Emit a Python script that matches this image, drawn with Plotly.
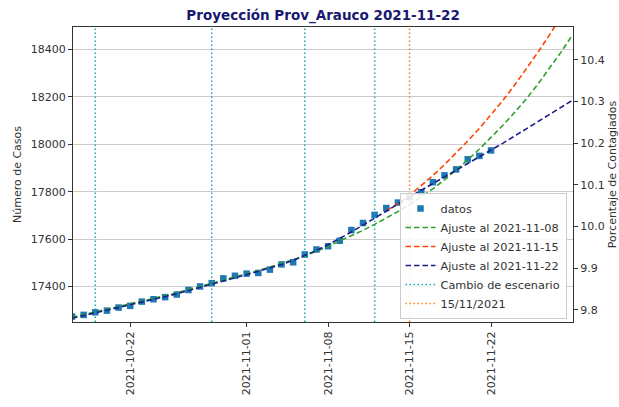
import plotly.graph_objects as go
import pandas as pd

# ---------------- data ----------------
data_dates = pd.date_range("2021-10-17", "2021-11-22", freq="D").strftime("%Y-%m-%d").tolist()
datos = [17273, 17280, 17291, 17298, 17311, 17318, 17336, 17346, 17355, 17366,
         17385, 17400, 17414, 17434, 17445, 17454, 17457, 17471, 17493, 17502,
         17535, 17556, 17570, 17593, 17638, 17668, 17702, 17731, 17754, 17777,
         17798, 17840, 17869, 17894, 17937, 17951, 17974]

fit_dates = pd.date_range("2021-10-17", "2021-11-29", freq="D").strftime("%Y-%m-%d").tolist()
ajuste_1108 = [17270, 17281, 17292, 17303, 17314, 17325, 17337, 17349, 17361, 17373,
               17386, 17399, 17412, 17425, 17439, 17453, 17467, 17482, 17497, 17513,
               17529, 17548, 17570, 17592, 17614, 17637, 17662, 17688, 17716, 17746,
               17778, 17812, 17850, 17890, 17934, 17980, 18028, 18079, 18133, 18190,
               18252, 18318, 18388, 18462]
ajuste_1122 = [17266, 17277, 17288, 17299, 17310, 17321, 17333, 17345, 17357, 17369,
               17382, 17395, 17408, 17422, 17436, 17450, 17464, 17478, 17493, 17510,
               17530, 17552, 17576, 17602, 17630, 17659, 17689, 17719, 17749, 17778,
               17806, 17834, 17862, 17890, 17918, 17946, 17975, 18004, 18034, 18064,
               18094, 18124, 18155, 18186]
fit_1115_dates = pd.date_range("2021-11-13", "2021-11-28", freq="D").strftime("%Y-%m-%d").tolist()
ajuste_1115 = [17720, 17750, 17785, 17825, 17868, 17914, 17963, 18014, 18067, 18124,
               18184, 18248, 18315, 18386, 18460, 18538]

cambio_dates = ["2021-10-19", "2021-10-29", "2021-11-06", "2021-11-12"]
fecha_corte = "2021-11-15"

x_ticks = ["2021-10-22", "2021-11-01", "2021-11-08", "2021-11-15", "2021-11-22"]
y_ticks = [17400, 17600, 17800, 18000, 18200, 18400]
pct_ticks = [9.8, 9.9, 10.0, 10.1, 10.2, 10.3, 10.4]

X_RANGE = ["2021-10-17 02:00", "2021-11-29 01:00"]
Y_RANGE = [17250, 18495]
PCT_RANGE = [9.771, 10.479]

FONT = "DejaVu Sans"
TXT = "#333333"

fig = go.Figure()

fig.add_trace(go.Scatter(x=data_dates, y=datos, mode="markers", name="datos",
                         marker=dict(symbol="square", size=6.5, color="#1f77b4")))
fig.add_trace(go.Scatter(x=fit_dates, y=ajuste_1108, mode="lines", name="Ajuste al 2021-11-08",
                         line=dict(color="#2ca02c", width=1.6, dash="5.5px,3px")))
fig.add_trace(go.Scatter(x=fit_1115_dates, y=ajuste_1115, mode="lines", name="Ajuste al 2021-11-15",
                         line=dict(color="#ff4500", width=1.6, dash="5.5px,3px")))
fig.add_trace(go.Scatter(x=fit_dates, y=ajuste_1122, mode="lines", name="Ajuste al 2021-11-22",
                         line=dict(color="#1c1c8c", width=1.6, dash="5.5px,3px")))

vx, vy = [], []
for d in cambio_dates:
    vx += [d, d, None]
    vy += [Y_RANGE[0], Y_RANGE[1], None]
fig.add_trace(go.Scatter(x=vx, y=vy, mode="lines", name="Cambio de escenario",
                         line=dict(color="#17a6b0", width=1.5, dash="1.5px,2.5px")))
fig.add_trace(go.Scatter(x=[fecha_corte, fecha_corte], y=Y_RANGE, mode="lines", name="15/11/2021",
                         line=dict(color="#ff7f0e", width=1.5, dash="1.5px,2.5px")))
# secondary axis carrier (no visible marks)
fig.add_trace(go.Scatter(x=[], y=[], yaxis="y2", showlegend=False, hoverinfo="skip"))

fig.update_layout(
    width=619, height=407,
    margin=dict(l=73, r=46, t=27, b=75),
    paper_bgcolor="white", plot_bgcolor="white",
    font=dict(family=FONT, size=11, color=TXT),
    title=dict(text="<b>Proyección Prov_Arauco 2021-11-22</b>", x=0.522, xanchor="center",
               y=0.963, yanchor="middle",
               font=dict(family=FONT, size=13.5, color="#191970")),
    showlegend=True,
    legend=dict(x=0.987, y=0.01, xanchor="right", yanchor="bottom",
                bgcolor="rgba(255,255,255,0.85)", bordercolor="#cccccc", borderwidth=1,
                font=dict(family=FONT, size=11.3, color=TXT), tracegroupgap=0),
    xaxis=dict(type="date", range=X_RANGE, tickvals=x_ticks, ticktext=x_ticks,
               tickangle=-90, ticks="outside", ticklen=4, tickcolor="#333",
               showgrid=False, showline=True, linecolor="#333", linewidth=1, mirror=True,
               zeroline=False, tickfont=dict(size=11)),
    yaxis=dict(range=Y_RANGE, tickvals=y_ticks, tickformat="d", ticks="outside", ticklen=4,
               tickcolor="#333", showgrid=True, gridcolor="#cccccc", gridwidth=1,
               showline=True, linecolor="#333", linewidth=1, zeroline=False,
               title=dict(text="Número de Casos", standoff=6, font=dict(size=11)),
               automargin=False),
    yaxis2=dict(range=PCT_RANGE, tickvals=pct_ticks, tickformat=".1f", overlaying="y",
                side="right", anchor="x", ticks="outside", ticklen=4, tickcolor="#333",
                showgrid=False, showline=True, linecolor="#333", linewidth=1, zeroline=False,
                title=dict(text="Porcentaje de Contagiados", standoff=10, font=dict(size=11)),
                automargin=False),
)

fig.write_html("out.html", config={"displayModeBar": False},
               post_script="document.body.style.margin='0';document.body.style.padding='0';")
